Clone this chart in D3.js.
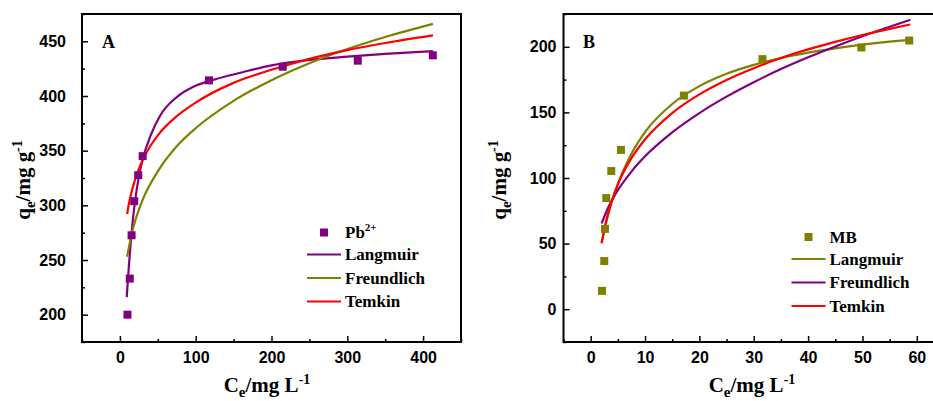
<!DOCTYPE html>
<html>
<head>
<meta charset="utf-8">
<script src="https://cdn.jsdelivr.net/npm/d3@7"></script>
<style>
  body { margin: 0; background: #fff; }
  svg { display: block; }
  .tick text { font-family: "Liberation Sans", Arial, sans-serif; font-weight: bold; font-size: 16px; fill: #000; }
  .lbl { font-family: "Liberation Serif", "Times New Roman", serif; font-weight: bold; fill: #000; }
</style>
</head>
<body>
<div class="chart"></div>
<script>
// ---- panel A : Pb2+ ----
var xTicksA = [0, 100, 200, 300, 400],
    xMinorA = [-50, 50, 150, 250, 350, 450],
    yTicksA = [200, 250, 300, 350, 400, 450],
    yMinorA = [175, 225, 275, 325, 375, 425, 475];

var pbCe = [10, 13, 15.4, 18.9, 24.2, 30, 117.5, 214.8, 313.8, 412.8],
    pbQe = [200, 233, 272.6, 303.8, 327.6, 345, 414.3, 426.8, 432.3, 437.2];

var langA_C = [9, 12, 15, 20, 25, 30, 40, 53, 75, 97, 117, 163, 200, 250, 300, 350, 413],
    langA_q = [216, 246, 272, 304, 326, 342, 363, 382, 399, 408.5, 413.5, 422, 428, 433, 436, 438.5, 441];
var freuA_C = [9.6, 15, 20, 30, 50, 75, 100, 150, 200, 250, 300, 350, 413],
    freuA_q = [253, 272.5, 285.5, 305, 331, 354, 370.5, 395.5, 414.5, 430, 443, 454, 466];
var temA_C = [9.6, 12, 15, 20, 30, 40, 50, 75, 100, 150, 200, 250, 300, 350, 413],
    temA_q = [292, 302, 311, 323.5, 341.5, 354, 364, 381.5, 394, 412, 424, 434, 442, 448.5, 455.5];

// ---- panel B : MB ----
var xTicksB = [0, 10, 20, 30, 40, 50, 60],
    xMinorB = [-5, 5, 15, 25, 35, 45, 55, 65],
    yTicksB = [0, 50, 100, 150, 200],
    yMinorB = [-25, 25, 75, 125, 175, 225];

var mbCe = [2.08, 2.5, 2.63, 2.87, 3.79, 5.57, 17.15, 31.6, 49.8, 58.6],
    mbQe = [14, 36.7, 61.2, 84.7, 105.3, 121.4, 162.8, 190.6, 199.5, 204.8];

var langB_C = [2, 3, 4, 5, 7.5, 10, 15, 20, 25, 30, 35, 40, 45, 50, 55, 58.6],
    langB_q = [51, 68.6, 83.2, 95.4, 118.5, 135, 156.4, 170, 179.4, 186.2, 191.4, 195.5, 198.8, 201.6, 203.9, 205.3];
var freuB_C = [2.02, 3, 4, 5, 7.5, 10, 15, 20, 25, 30, 35, 40, 45, 50, 55, 58.8],
    freuB_q = [65.4, 75.4, 83.7, 90.7, 104.9, 116.5, 134.8, 149.5, 162, 173, 183, 192, 200.3, 208.1, 215.3, 220.5];
var temB_C = [2.02, 3, 4, 5, 7.5, 10, 15, 20, 25, 30, 35, 40, 45, 50, 55, 58.8],
    temB_q = [50.2, 69.8, 84, 95.1, 115.1, 129.4, 149.5, 163.7, 174.7, 183.7, 191.4, 198, 203.8, 209, 213.7, 217];

var PURPLE = "#800080", OLIVE = "#808000", RED = "#ff0000";

var width = 933, height = 401;

var svg = d3.select(".chart")
            .append("svg")
            .attr("width", width)
            .attr("height", height);

function zip(a, b) { return a.map(function(v, i) { return [v, b[i]]; }); }

function panel(p) {
  var x = d3.scaleLinear().domain(p.xDomain).range(p.xRange),
      y = d3.scaleLinear().domain(p.yDomain).range([342, 14]);

  var g = svg.append("g");

  var line = d3.line()
      .x(function(d) { return x(d[0]); })
      .y(function(d) { return y(d[1]); })
      .curve(d3.curveMonotoneX);

  p.curves.forEach(function(c) {
    g.append("path")
      .attr("d", line(zip(c.C, c.q)))
      .attr("fill", "none")
      .attr("stroke", c.color)
      .attr("stroke-width", 2.2);
  });

  g.selectAll("rect.pt")
    .data(zip(p.ptC, p.ptQ))
  .enter().append("rect")
    .attr("class", "pt")
    .attr("x", function(d) { return x(d[0]) - 4; })
    .attr("y", function(d) { return y(d[1]) - 4; })
    .attr("width", 8)
    .attr("height", 8)
    .attr("fill", p.ptColor);

  // axes, ticks pointing inward
  var bottom = g.append("g").attr("transform", "translate(0,342)");
  bottom.call(d3.axisBottom(x).tickValues(p.xTicks).tickSizeInner(-6).tickSizeOuter(0).tickPadding(9.5));
  bottom.append("g").call(d3.axisBottom(x).tickValues(p.xMinor).tickSize(-3).tickFormat(""));

  var left = g.append("g").attr("transform", "translate(" + p.xRange[0] + ",0)");
  left.call(d3.axisLeft(y).tickValues(p.yTicks).tickSizeInner(-6).tickSizeOuter(0).tickPadding(p.yPad));
  left.append("g").call(d3.axisLeft(y).tickValues(p.yMinor).tickSize(-3).tickFormat(""));

  g.selectAll(".domain").remove();
  g.selectAll(".tick line").attr("stroke", "#000").attr("stroke-width", 1.5);

  g.append("rect")
    .attr("x", p.xRange[0]).attr("y", 14)
    .attr("width", p.xRange[1] - p.xRange[0]).attr("height", 328)
    .attr("fill", "none").attr("stroke", "#000").attr("stroke-width", 2);

  // panel letter
  g.append("text").attr("class", "lbl")
    .attr("x", p.letterX).attr("y", 48).attr("font-size", 18).text(p.letter);

  // x title
  var xt = g.append("text").attr("class", "lbl").attr("font-size", 21)
    .attr("x", p.xTitleX).attr("y", 392).attr("text-anchor", "middle");
  xt.append("tspan").text("C");
  xt.append("tspan").attr("font-size", 15).attr("dy", 5).text("e");
  xt.append("tspan").attr("dy", -5).text("/mg L");
  xt.append("tspan").attr("font-size", 14).attr("dy", -8).text("-1");

  // y title
  var yt = g.append("text").attr("class", "lbl").attr("font-size", 21)
    .attr("transform", "translate(" + p.yTitleX + ",180) rotate(-90)")
    .attr("text-anchor", "middle");
  yt.append("tspan").text("q");
  yt.append("tspan").attr("font-size", 15).attr("dy", 5).text("e");
  yt.append("tspan").attr("dy", -5).text("/mg g");
  yt.append("tspan").attr("font-size", 14).attr("dy", -8).text("-1");

  // legend
  var lg = g.append("g");
  lg.append("rect").attr("x", p.legX + 13).attr("y", p.legY - 4)
    .attr("width", 8).attr("height", 8).attr("fill", p.ptColor);
  var t0 = lg.append("text").attr("class", "lbl").attr("font-size", 17)
    .attr("x", p.legX + 38).attr("y", p.legY + 5.5).text(p.ptName);
  if (p.ptSup) t0.append("tspan").attr("font-size", 11).attr("dy", -7).text(p.ptSup);
  p.curves.forEach(function(c, i) {
    var ly = p.legY + 22 + i * 23.5;
    lg.append("line").attr("x1", p.legX).attr("x2", p.legX + 34)
      .attr("y1", ly).attr("y2", ly)
      .attr("stroke", c.color).attr("stroke-width", 2.2);
    lg.append("text").attr("class", "lbl").attr("font-size", 17)
      .attr("x", p.legX + 38).attr("y", ly + 5.5).text(c.name);
  });
}

panel({
  xDomain: [-50, 450], xRange: [82, 461], yDomain: [175, 475],
  xTicks: xTicksA, xMinor: xMinorA, yTicks: yTicksA, yMinor: yMinorA, yPad: 16,
  ptC: pbCe, ptQ: pbQe, ptColor: PURPLE, ptName: "Pb", ptSup: "2+",
  curves: [
    {name: "Langmuir", color: PURPLE, C: langA_C, q: langA_q},
    {name: "Freundlich", color: OLIVE, C: freuA_C, q: freuA_q},
    {name: "Temkin", color: RED, C: temA_C, q: temA_q}
  ],
  letter: "A", letterX: 102, xTitleX: 267, yTitleX: 30,
  legX: 307, legY: 232.5
});

panel({
  xDomain: [-5, 65], xRange: [563.5, 944], yDomain: [-25, 225],
  xTicks: xTicksB, xMinor: xMinorB, yTicks: yTicksB, yMinor: yMinorB, yPad: 7,
  ptC: mbCe, ptQ: mbQe, ptColor: OLIVE, ptName: "MB",
  curves: [
    {name: "Langmuir", color: OLIVE, C: langB_C, q: langB_q},
    {name: "Freundlich", color: PURPLE, C: freuB_C, q: freuB_q},
    {name: "Temkin", color: RED, C: temB_C, q: temB_q}
  ],
  letter: "B", letterX: 583, xTitleX: 752, yTitleX: 506,
  legX: 791.5, legY: 237
});
</script>
</body>
</html>
